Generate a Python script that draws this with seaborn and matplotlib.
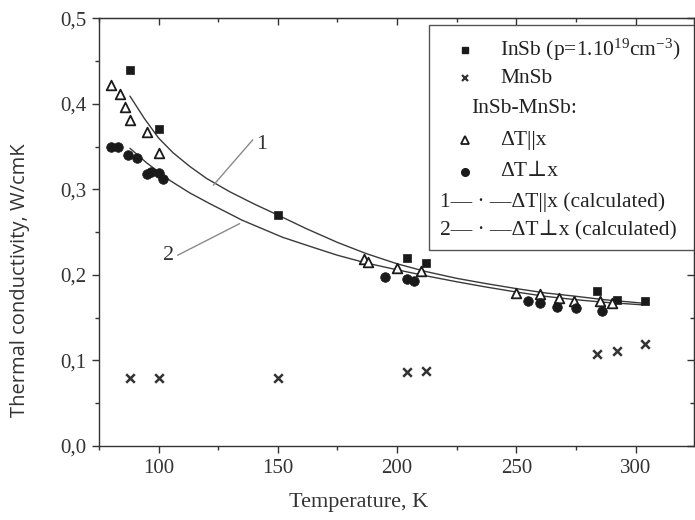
import matplotlib
matplotlib.use("Agg")
import matplotlib.pyplot as plt
import matplotlib.ticker as mticker
from matplotlib.patches import Rectangle
import seaborn as sns
import pandas as pd

insb_T = [88, 100, 150, 204, 212, 284, 292, 304]
insb_k = [0.440, 0.371, 0.270, 0.220, 0.214, 0.181, 0.171, 0.169]

mnsb_T = [88, 100, 150, 204, 212, 284, 292, 304]
mnsb_k = [0.079, 0.080, 0.079, 0.086, 0.088, 0.107, 0.111, 0.119]

par_T = [80, 84, 86, 88, 95, 100, 186, 188, 200, 210, 250, 260, 268, 274, 285, 290]
par_k = [0.422, 0.411, 0.396, 0.381, 0.367, 0.342, 0.219, 0.215, 0.208, 0.205,
         0.179, 0.178, 0.173, 0.170, 0.169, 0.167]

perp_T = [80, 83, 87, 91, 95, 97, 100, 102, 195, 204, 207, 255, 260, 267, 275, 286]
perp_k = [0.350, 0.350, 0.340, 0.337, 0.318, 0.320, 0.319, 0.312, 0.198, 0.195,
          0.193, 0.169, 0.167, 0.162, 0.161, 0.158]

# calculated curves
calc1_T = [88, 94, 100, 106, 113, 120, 130, 140, 150, 162, 175, 187, 200, 212,
           225, 237, 250, 262, 275, 287, 303]
calc1_k = [0.409, 0.383, 0.360, 0.343, 0.327, 0.313, 0.297, 0.283, 0.270, 0.254,
           0.238, 0.225, 0.213, 0.204, 0.196, 0.190, 0.184, 0.179, 0.175, 0.171, 0.167]
calc2_T = [88, 95, 105, 113, 121, 135, 152, 165, 175, 187, 200, 212, 225, 237,
           250, 262, 275, 287, 303]
calc2_k = [0.348, 0.331, 0.310, 0.296, 0.284, 0.264, 0.244, 0.232, 0.223, 0.214,
           0.206, 0.199, 0.192, 0.186, 0.180, 0.175, 0.171, 0.168, 0.165]

sns.set_style("ticks")
plt.rcParams['font.family'] = ['Liberation Serif', 'DejaVu Serif']
plt.rcParams['mathtext.fontset'] = 'custom'
plt.rcParams['mathtext.rm'] = 'Liberation Serif'
plt.rcParams['mathtext.it'] = 'Liberation Serif:italic'

INK = '#1a1a1a'
LINE = '#3a3a3a'

fig = plt.figure(figsize=(6.95, 5.2), dpi=100)
ax = fig.add_axes([0.1424, 0.1423, 0.8562, 0.8225])

calc1 = pd.DataFrame({'T': calc1_T, 'k': calc1_k})
calc2 = pd.DataFrame({'T': calc2_T, 'k': calc2_k})
sns.lineplot(data=calc1, x='T', y='k', ax=ax, color=LINE, lw=1.0, sort=False, estimator=None)
sns.lineplot(data=calc2, x='T', y='k', ax=ax, color=LINE, lw=1.0, sort=False, estimator=None)

sns.scatterplot(x=insb_T, y=insb_k, ax=ax, marker='s', s=40, color=INK, edgecolor=INK, linewidth=0.5, zorder=4)
sns.scatterplot(x=mnsb_T, y=mnsb_k, ax=ax, marker='x', s=38, color='#333333', linewidth=1.8, zorder=4)
sns.scatterplot(x=par_T, y=par_k, ax=ax, marker='^', s=48, facecolor='white', edgecolor=INK, linewidth=1.3, zorder=4)
sns.scatterplot(x=perp_T, y=perp_k, ax=ax, marker='o', s=48, color=INK, edgecolor=INK, linewidth=0.5, zorder=4)

# curve labels with leader lines
ax.plot([123, 139.5], [0.305, 0.358], color='#8a8a8a', lw=1.0)
ax.text(141.0, 0.352, '1', fontsize=16, ha='left', va='center', color='#333333')
ax.plot([108, 134], [0.223, 0.260], color='#8a8a8a', lw=1.0)
ax.text(106.5, 0.223, '2', fontsize=16, ha='right', va='center', color='#333333')

ax.set_xlim(75, 324.5)
ax.set_ylim(0, 0.5)
ax.xaxis.set_major_locator(mticker.MultipleLocator(50))
ax.xaxis.set_minor_locator(mticker.MultipleLocator(25))
ax.yaxis.set_major_locator(mticker.MultipleLocator(0.1))
ax.yaxis.set_minor_locator(mticker.MultipleLocator(0.05))
ax.yaxis.set_major_formatter(mticker.FuncFormatter(lambda v, p: f"{v:.1f}".replace('.', ',')))

for side in ax.spines.values():
    side.set_visible(True)
    side.set_color('#333333')
    side.set_linewidth(1.0)

ax.tick_params(which='major', direction='out', length=5, width=1, color='#333333',
               labelsize=15, labelcolor='#333333')
ax.tick_params(which='minor', direction='out', length=3, width=1, color='#333333')
ax.tick_params(axis='x', pad=4)
ax.tick_params(axis='y', pad=4)

top = ax.secondary_xaxis('top')
top.xaxis.set_major_locator(mticker.MultipleLocator(50))
top.xaxis.set_minor_locator(mticker.MultipleLocator(25))
top.tick_params(which='major', direction='in', length=5, width=1, color='#333333', labeltop=False)
top.tick_params(which='minor', direction='in', length=3, width=1, color='#333333')
right = ax.secondary_yaxis('right')
right.yaxis.set_major_locator(mticker.MultipleLocator(0.1))
right.yaxis.set_minor_locator(mticker.MultipleLocator(0.05))
right.tick_params(which='major', direction='in', length=5, width=1, color='#333333', labelright=False)
right.tick_params(which='minor', direction='in', length=3, width=1, color='#333333')

ax.set_xlabel('Temperature, K', fontsize=16, color='#333333')
ax.xaxis.set_label_coords(0.437, -0.133)
ax.xaxis.label.set_va('center')
ax.set_ylabel('Thermal conductivity, W/cmK', fontsize=14.5, color='#333333',
              family=['Open Sans', 'DejaVu Sans'])
ax.yaxis.set_label_coords(-0.133, 0.388)
ax.yaxis.label.set_va('center')

# legend box drawn by hand (Origin style)
ax.add_patch(Rectangle((0.555, 0.458), 0.445, 0.526, transform=ax.transAxes,
                       facecolor='white', edgecolor='#555555', lw=1.0, zorder=5))
rows = [0.926, 0.860, 0.790, 0.715, 0.641, 0.571, 0.505]
mk_x, tx_x = 0.615, 0.674
lg = dict(transform=ax.transAxes, zorder=6, clip_on=False)
ax.plot([mk_x], [rows[0]], marker='s', ms=5, color=INK, ls='none', **lg)
ax.plot([mk_x], [rows[1]], marker='x', ms=5, mew=1.6, color='#333333', ls='none', **lg)
ax.plot([mk_x], [rows[3]], marker='^', ms=5.5, mfc='white', mec=INK, mew=1.3, ls='none', **lg)
ax.plot([mk_x], [rows[4]], marker='o', ms=5.5, color=INK, ls='none', **lg)
tkw = dict(transform=ax.transAxes, fontsize=15.5, va='center', ha='left', color='#222222', zorder=6)
ax.text(tx_x, rows[0], r'InSb (p=1.10$^{19}$cm$^{-3}$)', **tkw)
ax.text(tx_x, rows[1], 'MnSb', **tkw)
ax.text(0.626, rows[2], 'InSb-MnSb:', **tkw)
ax.text(tx_x, rows[3], 'ΔT||x', **tkw)
ax.text(tx_x, rows[4], 'ΔT⊥x', **tkw)
ax.text(0.573, rows[5], '1— · —ΔT||x (calculated)', **tkw)
ax.text(0.573, rows[6], '2— · —ΔT⊥x (calculated)', **tkw)

fig.savefig('out.png', dpi=100, facecolor='white')
